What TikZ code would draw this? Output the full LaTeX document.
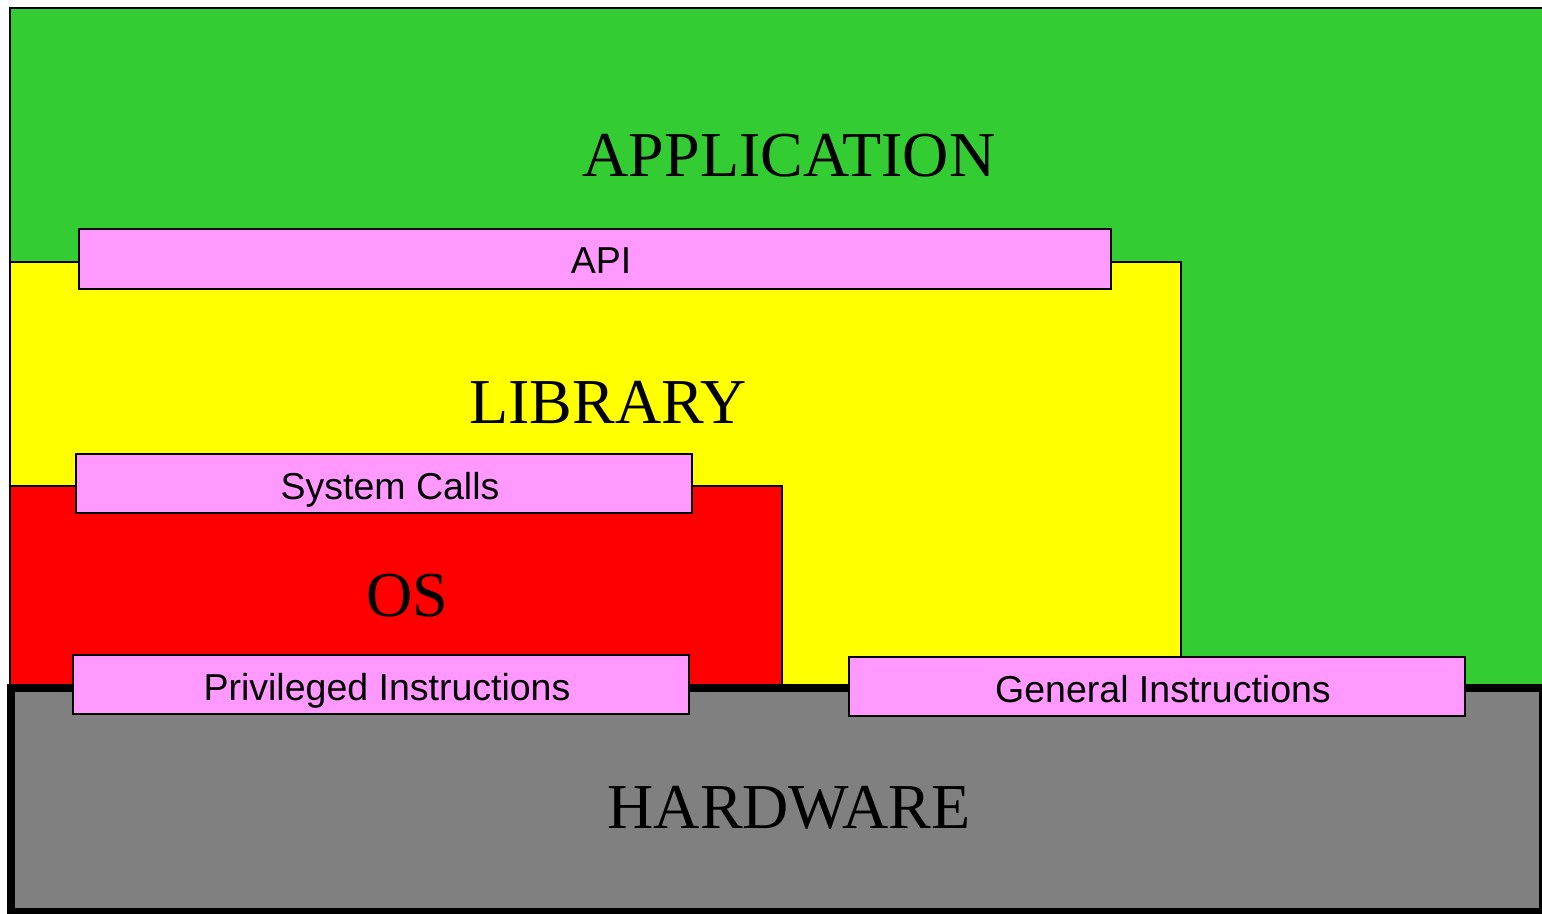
\documentclass[tikz,border=0pt]{standalone}
\usepackage{fontspec}
\setmainfont{Liberation Serif}
\newfontfamily\labelfont{Liberation Sans}
\definecolor{appgreen}{RGB}{51,204,51}
\definecolor{libyellow}{RGB}{255,255,0}
\definecolor{osred}{RGB}{255,0,0}
\definecolor{ifpink}{RGB}{255,153,255}
\definecolor{hwgray}{RGB}{128,128,128}
\tikzset{
  layer/.style={draw=black, line width=1.6pt},
  layertext/.style={font=\fontsize{64}{64}\selectfont, inner sep=0pt, text depth=0pt},
  iface/.style={draw=black, line width=1.6pt, fill=ifpink},
  ifacetext/.style={font=\labelfont\fontsize{37.5}{37.5}\selectfont, inner sep=0pt, text depth=0pt},
}
\begin{document}
\begin{tikzpicture}[x=1pt, y=-1pt]
  \useasboundingbox (0,0) rectangle (1542,913);
  % layers, back to front
  \fill[white] (0,0) rectangle (1542,913);
  \draw[layer, fill=appgreen] (10,8) rectangle (1548,687);
  \draw[layer, fill=libyellow] (10,262) rectangle (1181,687);
  \draw[layer, fill=osred] (10,486) rectangle (782,687);
  \draw[draw=black, line width=8pt, fill=hwgray] (11,687.5) rectangle (1543,912);
  % layer names
  \node[layertext] (app) at (789,155) {APPLICATION};
  \node[layertext] (lib) at (608,402) {LIBRARY};
  \node[layertext] (os) at (407,595) {OS};
  \node[layertext] (hw) at (789,807) {HARDWARE};
  % interfaces between layers
  \draw[iface] (79,229) rectangle (1111,289);
  \node[ifacetext] (api) at (601,261) {API};
  \draw[iface] (76,454) rectangle (692,513);
  \node[ifacetext] (sys) at (390,486) {System Calls};
  \draw[iface] (73,655) rectangle (689,714);
  \node[ifacetext] (priv) at (387,687) {Privileged Instructions};
  \draw[iface] (849,657) rectangle (1465,716);
  \node[ifacetext] (gen) at (1163,689) {General Instructions};
\end{tikzpicture}
\end{document}
